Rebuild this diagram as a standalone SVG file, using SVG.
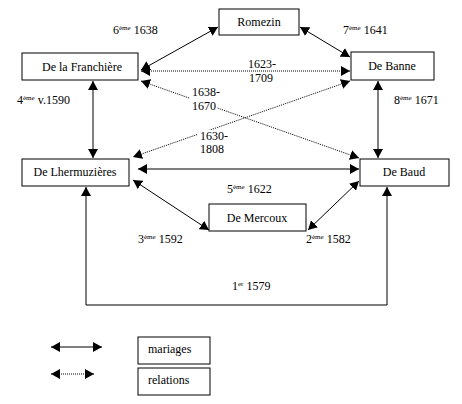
<svg xmlns="http://www.w3.org/2000/svg" width="462" height="404" viewBox="0 0 462 404" font-family="'Liberation Serif', 'Times New Roman', Times, serif" font-size="12">
<defs>
<style>
text{font-family:'Liberation Serif','Times New Roman',Times,serif;font-size:12px;fill:#000}
.sup{font-size:7px}
.box{fill:#fff;stroke:#000;stroke-width:1}
.solid{fill:none;stroke:#000;stroke-width:1}
.dot{fill:none;stroke:#000;stroke-width:1;stroke-dasharray:1,1}
.bg{fill:#fff}
</style>
<marker id="a" markerWidth="10" markerHeight="10" refX="9" refY="5" orient="auto-start-reverse" markerUnits="userSpaceOnUse">
<path d="M0,0 L9,5 L0,10 Z" fill="#000"/>
</marker>
</defs>
<rect width="462" height="404" fill="#fff"/>
<g id="connectors">
<line class="solid" x1="141" y1="70" x2="218" y2="27" marker-start="url(#a)" marker-end="url(#a)"/>
<line class="solid" x1="300" y1="27" x2="350" y2="57" marker-start="url(#a)" marker-end="url(#a)"/>
<line class="dot" x1="141" y1="71" x2="350" y2="71" marker-start="url(#a)" marker-end="url(#a)"/>
<line class="dot" x1="141" y1="81" x2="359" y2="158" marker-start="url(#a)" marker-end="url(#a)"/>
<line class="dot" x1="350" y1="81" x2="133" y2="157" marker-start="url(#a)" marker-end="url(#a)"/>
<line class="solid" x1="93" y1="81" x2="93" y2="158" marker-start="url(#a)" marker-end="url(#a)"/>
<line class="solid" x1="378" y1="81" x2="378" y2="158" marker-start="url(#a)" marker-end="url(#a)"/>
<line class="solid" x1="138" y1="169" x2="359" y2="169" marker-start="url(#a)" marker-end="url(#a)"/>
<line class="solid" x1="133" y1="180" x2="209" y2="230" marker-start="url(#a)" marker-end="url(#a)"/>
<line class="solid" x1="359" y1="181" x2="308" y2="230" marker-start="url(#a)" marker-end="url(#a)"/>
<polyline class="solid" points="86,187 86,305 387,305 387,187" marker-start="url(#a)" marker-end="url(#a)"/>
</g>
<g id="romezin"><rect class="box" x="219" y="9" width="80" height="26"/><text x="259" y="26" text-anchor="middle">Romezin</text></g>
<g id="franchiere"><rect class="box" x="22" y="53" width="116" height="27"/><text x="82" y="71" text-anchor="middle">De la Franchière</text></g>
<g id="banne"><rect class="box" x="351" y="52" width="83" height="28"/><text x="392" y="70" text-anchor="middle">De Banne</text></g>
<g id="lhermuzieres"><rect class="box" x="22" y="159" width="107" height="27"/><text x="75" y="176" text-anchor="middle">De Lhermuzières</text></g>
<g id="baud"><rect class="box" x="360" y="159" width="89" height="27"/><text x="404" y="176" text-anchor="middle">De Baud</text></g>
<g id="mercoux"><rect class="box" x="209" y="204" width="97" height="27"/><text x="257" y="222" text-anchor="middle">De Mercoux</text></g>
<g id="labels">
<text x="113" y="34">6<tspan class="sup" dy="-4">ème</tspan><tspan dy="4"> 1638</tspan></text>
<text x="343" y="34">7<tspan class="sup" dy="-4">ème</tspan><tspan dy="4"> 1641</tspan></text>
<text x="248" y="68">1623-</text>
<text x="249" y="82">1709</text>
<rect class="bg" x="190" y="86" width="27" height="25"/>
<text x="192" y="96">1638-</text>
<text x="192" y="110">1670</text>
<rect class="bg" x="198" y="130" width="27" height="26"/>
<text x="200" y="140">1630-</text>
<text x="200" y="153">1808</text>
<text x="17" y="104">4<tspan class="sup" dy="-4">ème</tspan><tspan dy="4"> v.1590</tspan></text>
<text x="394" y="104">8<tspan class="sup" dy="-4">ème</tspan><tspan dy="4"> 1671</tspan></text>
<text x="227" y="193">5<tspan class="sup" dy="-4">ème</tspan><tspan dy="4"> 1622</tspan></text>
<text x="138" y="243">3<tspan class="sup" dy="-4">ème</tspan><tspan dy="4"> 1592</tspan></text>
<text x="306" y="243">2<tspan class="sup" dy="-4">ème</tspan><tspan dy="4"> 1582</tspan></text>
<text x="232" y="290">1<tspan class="sup" dy="-4">er</tspan><tspan dy="4"> 1579</tspan></text>
</g>
<g id="legend">
<line class="solid" x1="51" y1="347" x2="102" y2="347" marker-start="url(#a)" marker-end="url(#a)"/>
<line class="dot" x1="51" y1="374" x2="94" y2="374" marker-start="url(#a)" marker-end="url(#a)"/>
<rect class="box" x="138" y="337" width="72" height="27"/><text x="148" y="353">mariages</text>
<rect class="box" x="138" y="368" width="72" height="27"/><text x="148" y="384">relations</text>
</g>
</svg>
